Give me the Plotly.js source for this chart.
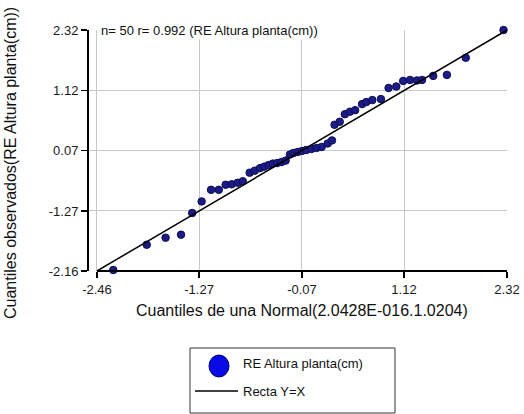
<!DOCTYPE html>
<html>
<head>
<meta charset="utf-8">
<script src="https://cdn.plot.ly/plotly-3.0.1.min.js"></script>
<style>
  html, body { margin: 0; padding: 0; background: #ffffff; }
  #chart { width: 524px; height: 414px; }
</style>
</head>
<body>
<div id="chart"></div>
<script>
var qTeorico = [-2.27, -1.88, -1.66, -1.48, -1.35, -1.24, -1.13, -1.04, -0.96, -0.89,
                -0.82, -0.76, -0.68, -0.62,
                -0.56, -0.51, -0.46, -0.41, -0.36, -0.31, -0.26, -0.21, -0.17, -0.12, -0.07, -0.02,
                0.04, 0.10, 0.16, 0.23, 0.28, 0.31, 0.37, 0.43, 0.49, 0.55, 0.63, 0.68,
                0.75, 0.85, 0.94, 1.03, 1.11, 1.19, 1.27, 1.33, 1.46, 1.62, 1.84, 2.28];
var qObservado = [-2.44, -1.94, -1.80, -1.74, -1.31, -1.08, -0.85, -0.85, -0.75, -0.74,
                  -0.71, -0.68, -0.51, -0.47,
                  -0.42, -0.39, -0.36, -0.33, -0.32, -0.30, -0.27, -0.15, -0.12, -0.10, -0.08, -0.06,
                  -0.04, -0.02, 0.00, 0.07, 0.13, 0.44, 0.50, 0.65, 0.70, 0.73, 0.85, 0.89,
                  0.93, 0.95, 1.17, 1.20, 1.31, 1.33, 1.32, 1.33, 1.41, 1.43, 1.77, 2.32];

// Reference line Y = X end points
var rectaX = [-2.46, 2.32];
var rectaY = [-2.46, 2.32];

// Tick positions and labels
var xTickVals = [-2.46, -1.27, -0.07, 1.12, 2.32];
var xTickText = ['-2.46', '-1.27', '-0.07', '1.12', '2.32'];
var yTickVals = [-2.46, -1.27, -0.07, 1.12, 2.32];
var yTickText = ['-2.16', '-1.27', '0.07', '1.12', '2.32'];

var tituloGrafico = 'n= 50 r= 0.992 (RE Altura planta(cm))';
var tituloX = 'Cuantiles de una Normal(2.0428E-016.1.0204)';
var tituloY = 'Cuantiles observados(RE Altura planta(cm))';
var leyendaPuntos = 'RE Altura planta(cm)';
var leyendaRecta = 'Recta Y=X';

var FONT = 'Arial, "Liberation Sans", sans-serif';

var traces = [
  {
    type: 'scatter', mode: 'markers',
    x: qTeorico, y: qObservado,
    marker: { size: 7.5, color: '#1c1c86', line: { color: '#0c0c55', width: 1 } },
    cliponaxis: false,
    showlegend: false, hoverinfo: 'x+y'
  },
  {
    type: 'scatter', mode: 'lines',
    x: rectaX, y: rectaY,
    line: { color: '#000000', width: 1.5 },
    showlegend: false, hoverinfo: 'skip'
  }
];

// pixel helpers for paper coordinates (plot area: x 89..507, y 30..271)
function px(p) { return (p - 89) / 418; }
function py(p) { return (271 - p) / 241; }

var layout = {
  width: 524, height: 414,
  margin: { l: 89, r: 17, t: 30, b: 143, pad: 0 },
  paper_bgcolor: '#ffffff',
  plot_bgcolor: '#ffffff',
  font: { family: FONT, size: 13, color: '#1a1a1a' },
  showlegend: false,
  xaxis: {
    range: [-2.553, 2.3205],
    tickmode: 'array', tickvals: xTickVals, ticktext: xTickText,
    ticks: 'outside', ticklen: 6, tickwidth: 1.5, tickcolor: '#000000',
    showline: false, zeroline: false,
    showgrid: true, gridcolor: '#c9c9c9', gridwidth: 1,
    tickfont: { family: FONT, size: 13, color: '#1a1a1a' }
  },
  yaxis: {
    range: [-2.4605, 2.3205],
    tickmode: 'array', tickvals: yTickVals, ticktext: yTickText,
    ticks: 'outside', ticklen: 6, tickwidth: 1.5, tickcolor: '#000000',
    showline: true, linecolor: '#000000', linewidth: 2,
    zeroline: false,
    showgrid: true, gridcolor: '#c9c9c9', gridwidth: 1,
    tickfont: { family: FONT, size: 13, color: '#1a1a1a' }
  },
  shapes: [
    // x axis line (detached from the y axis)
    { type: 'line', xref: 'x', yref: 'paper', x0: rectaX[0], x1: rectaX[1], y0: 0, y1: 0,
      line: { color: '#000000', width: 2 } },
    // legend box
    { type: 'rect', xref: 'paper', yref: 'paper', x0: px(190), x1: px(395), y0: py(413), y1: py(348),
      line: { color: '#333333', width: 1 }, fillcolor: 'rgba(0,0,0,0)' },
    // legend marker
    { type: 'circle', xref: 'paper', yref: 'paper', xsizemode: 'pixel', ysizemode: 'pixel',
      xanchor: px(219), yanchor: py(366), x0: -10, x1: 10, y0: -11, y1: 11,
      fillcolor: '#0a0ae6', line: { color: '#00006e', width: 1 } },
    // legend line
    { type: 'line', xref: 'paper', yref: 'paper', x0: px(195), x1: px(238), y0: py(391), y1: py(391),
      line: { color: '#000000', width: 1.5 } }
  ],
  annotations: [
    { text: tituloGrafico, xref: 'paper', yref: 'paper', x: px(99), y: 1,
      xanchor: 'left', yanchor: 'middle', showarrow: false, bgcolor: '#ffffff',
      font: { family: FONT, size: 13, color: '#111111' } },
    { text: tituloX, xref: 'paper', yref: 'paper', x: px(301.5), y: py(310),
      xanchor: 'center', yanchor: 'middle', showarrow: false,
      font: { family: FONT, size: 16, color: '#111111' } },
    { text: tituloY, xref: 'paper', yref: 'paper', x: px(10), y: py(163), textangle: -90,
      xanchor: 'center', yanchor: 'middle', showarrow: false,
      font: { family: FONT, size: 16, color: '#111111' } },
    { text: leyendaPuntos, xref: 'paper', yref: 'paper', x: px(241), y: py(363),
      xanchor: 'left', yanchor: 'middle', showarrow: false,
      font: { family: FONT, size: 13, color: '#111111' } },
    { text: leyendaRecta, xref: 'paper', yref: 'paper', x: px(241), y: py(391),
      xanchor: 'left', yanchor: 'middle', showarrow: false,
      font: { family: FONT, size: 13, color: '#111111' } }
  ]
};

Plotly.newPlot('chart', traces, layout, { displayModeBar: false, staticPlot: true });
</script>
</body>
</html>
